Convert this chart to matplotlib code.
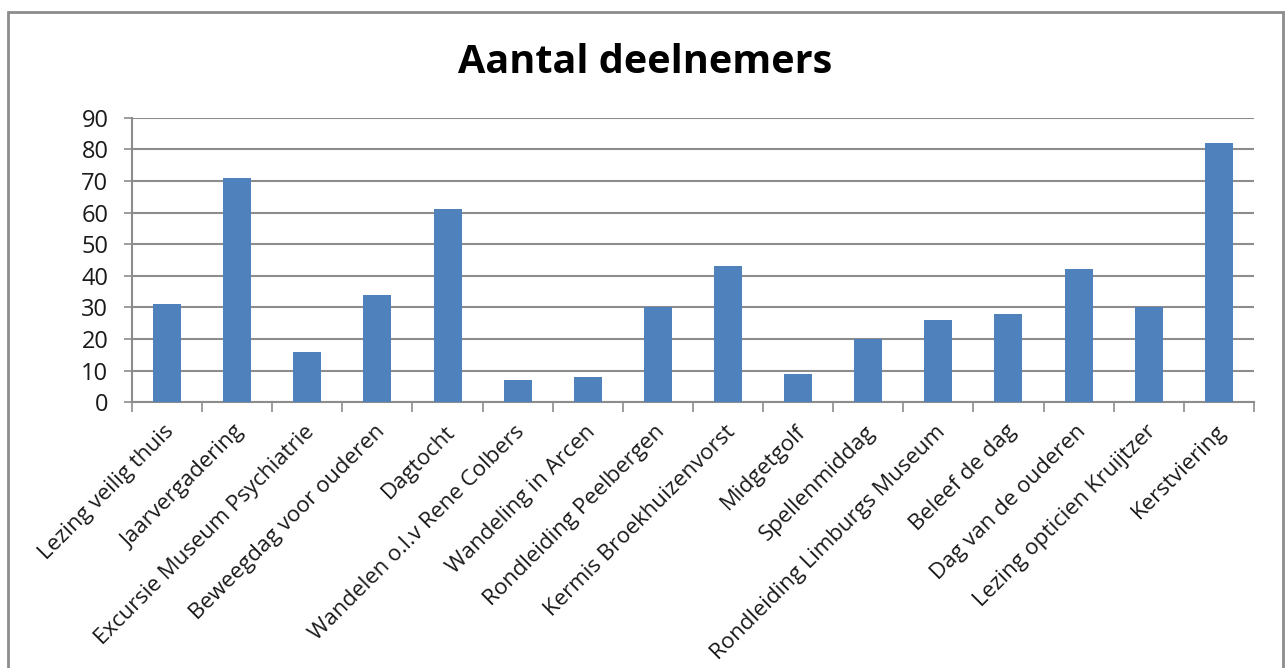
import matplotlib
matplotlib.use("Agg")
import matplotlib.pyplot as plt
from matplotlib.patches import Rectangle
import numpy as np

# activiteiten en aantal deelnemers
activiteiten = [
    "Lezing veilig thuis", "Jaarvergadering", "Excursie Museum Psychiatrie",
    "Beweegdag voor ouderen", "Dagtocht", "Wandelen o.l.v Rene Colbers",
    "Wandeling in Arcen", "Rondleiding Peelbergen", "Kermis Broekhuizenvorst",
    "Midgetgolf", "Spellenmiddag", "Rondleiding Limburgs Museum",
    "Beleef de dag", "Dag van de ouderen", "Lezing opticien Kruijtzer",
    "Kerstviering",
]
deelnemers = [31, 71, 16, 34, 61, 7, 8, 30, 43, 9, 20, 26, 28, 42, 30, 82]
y_ticks = list(range(0, 100, 10))

plt.rcParams['font.family'] = ['Open Sans', 'DejaVu Sans']

fig = plt.figure(figsize=(12.88, 6.68), dpi=100)
ax = fig.add_axes([0.1025, 0.398, 0.871, 0.4255])

x = np.arange(len(activiteiten))
ax.bar(x, deelnemers, width=0.4, color="#4F81BD", zorder=3)

ax.set_xlim(-0.5, len(activiteiten) - 0.5)
ax.set_ylim(0, 90)
ax.set_yticks(y_ticks)
ax.yaxis.grid(True, color="#8c8c8c", linewidth=1.5, zorder=0)
ax.tick_params(axis="y", labelsize=17, length=6, width=1.2, color="#8c8c8c",
               labelcolor="#1a1a1a", pad=11)

# ticks tussen de categorieen, labels op het midden
ax.set_xticks(np.arange(-0.5, len(activiteiten), 1.0))
ax.set_xticklabels([])
ax.tick_params(axis="x", length=7, width=1.2, color="#8c8c8c")
for i, naam in enumerate(activiteiten):
    ax.annotate(naam, xy=(i, 0), xycoords=("data", "axes fraction"),
                xytext=(3, -19), textcoords="offset points",
                rotation=45, rotation_mode="anchor", ha="right", va="center",
                fontsize=16, color="#1a1a1a")

for side in ["top", "right"]:
    ax.spines[side].set_visible(False)
for side in ["left", "bottom"]:
    ax.spines[side].set_color("#8c8c8c")
    ax.spines[side].set_linewidth(1.5)

fig.text(0.501, 0.906, "Aantal deelnemers", ha="center", va="center",
         fontsize=28.5, fontweight="bold", color="black")

# rand om de grafiek
fig.patches.append(Rectangle((8 / 1288, -0.05), 1275 / 1288, 1.05 - 12 / 668,
                             transform=fig.transFigure, fill=False,
                             edgecolor="#8c8c8c", linewidth=2))

fig.savefig("out.png", dpi=100)
